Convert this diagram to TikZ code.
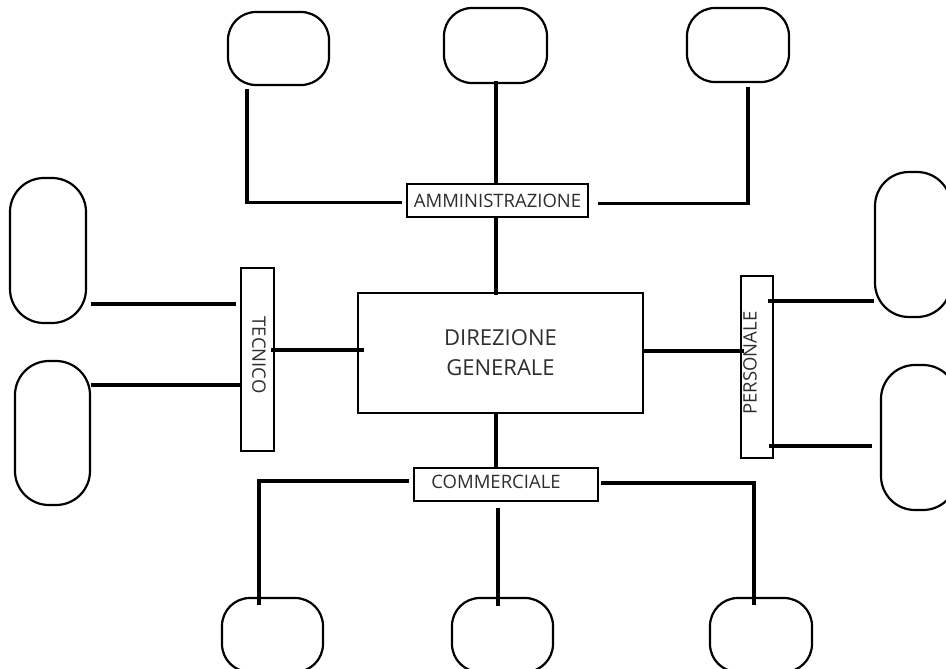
\documentclass[tikz,border=0pt]{standalone}
\usepackage{fontspec}
\setmainfont{Open Sans}
\usetikzlibrary{calc}
\definecolor{inkgray}{HTML}{2E2E2E}
\tikzset{
  box/.style={draw, line width=2.2pt, inner sep=0pt},
  unitbox/.style={box, rounded corners=28pt},
  sidebox/.style={box, rounded corners=34pt},
  lbl/.style={text=inkgray, inner sep=0pt, font=\fontsize{18.5}{22}\selectfont},
  biglbl/.style={text=inkgray, align=center, font=\fontsize{22}{30}\selectfont},
  conn/.style={line width=3.8pt}
}
\begin{document}
\begin{tikzpicture}[x=1pt, y=-1pt]
\useasboundingbox (0,0) rectangle (946,669);
\fill[white] (0,0) rectangle (946,669);
\clip (0,0) rectangle (946,669);

% central office
\node[box, minimum width=285pt, minimum height=120pt, biglbl] (dg) at (500.5,353) {DIREZIONE\\GENERALE};

% departments
\node[box, minimum width=181pt, minimum height=33pt, lbl, inner sep=0pt] (amm) at (497.5,200.5) {AMMINISTRAZIONE};
\node[box, minimum width=184pt, minimum height=33pt] (com) at (506,484.5) {};
\node[lbl] (com-t) at ($(com.center)+(-10,-2.5)$) {COMMERCIALE};
\node[box, minimum width=33pt, minimum height=183pt] (tec) at (257.5,359.5) {};
\node[lbl, rotate=-90] (tec-t) at ($(tec.center)+(1.5,-4.5)$) {TECNICO};
\node[box, minimum width=32pt, minimum height=182pt] (per) at (757,367) {};
\node[lbl, rotate=90] (per-t) at ($(per.center)+(-7,-4)$) {PERSONALE};

% units above
\node[unitbox, minimum width=101pt, minimum height=73pt] (tl) at (278.5,48.5) {};
\node[unitbox, minimum width=103pt, minimum height=75pt] (tm) at (495.5,45.5) {};
\node[unitbox, minimum width=102pt, minimum height=74pt] (tr) at (738,45) {};

% units below
\node[unitbox, minimum width=101pt, minimum height=74pt] (bl) at (272.5,635) {};
\node[unitbox, minimum width=101pt, minimum height=74pt] (bm) at (502.5,635) {};
\node[unitbox, minimum width=102pt, minimum height=74pt] (br) at (761,635) {};

% units on the sides
\node[sidebox, minimum width=76pt, minimum height=145pt] (l1) at (48,250.5) {};
\node[sidebox, minimum width=75pt, minimum height=144pt] (l2) at (52.5,433) {};
\node[sidebox, minimum width=76pt, minimum height=145pt] (r1) at (913,244.5) {};
\node[sidebox, minimum width=76pt, minimum height=145pt] (r2) at (919,437.5) {};

% connectors
\draw[conn] ($(tl.south)+(-31.5,3)$) |- ($(amm.west)+(-4,2)$);
\draw[conn] ($(tm.south)+(0.5,-3)$) -- ($(amm.north)+(-1.5,0)$);
\draw[conn] ($(tr.south)+(10,4)$) |- ($(amm.east)+(9,3)$);
\draw[conn] ($(amm.south)+(-1.5,0)$) -- ($(dg.north)+(-4.5,3)$);

\draw[conn] ($(dg.west)+(7,-3)$) -- ($(tec.east)+(-4,-9.5)$);
\draw[conn] ($(l1.east)+(4,53.5)$) -- ($(tec.west)+(-4,-55.5)$);
\draw[conn] ($(l2.east)+(0,-48)$) -- ($(tec.west)+(0,25.5)$);

\draw[conn] ($(dg.east)+(0,-2)$) -- ($(per.west)+(4,-16)$);
\draw[conn] ($(r1.west)+(0,56.5)$) -- ($(per.east)+(-6,-66)$);
\draw[conn] ($(r2.west)+(-8,8.5)$) -- ($(per.east)+(-5,79)$);

\draw[conn] ($(dg.south)+(-4.5,0)$) -- ($(com.north)+(-10,0)$);
\draw[conn] ($(com.west)+(-4,-3.5)$) -| ($(bl.north)+(-13.5,8)$);
\draw[conn] ($(com.south)+(-8,6)$) -- ($(bm.north)+(-4.5,9)$);
\draw[conn] ($(com.east)+(2,-1.5)$) -| ($(br.north)+(-7,8)$);
\end{tikzpicture}
\end{document}
